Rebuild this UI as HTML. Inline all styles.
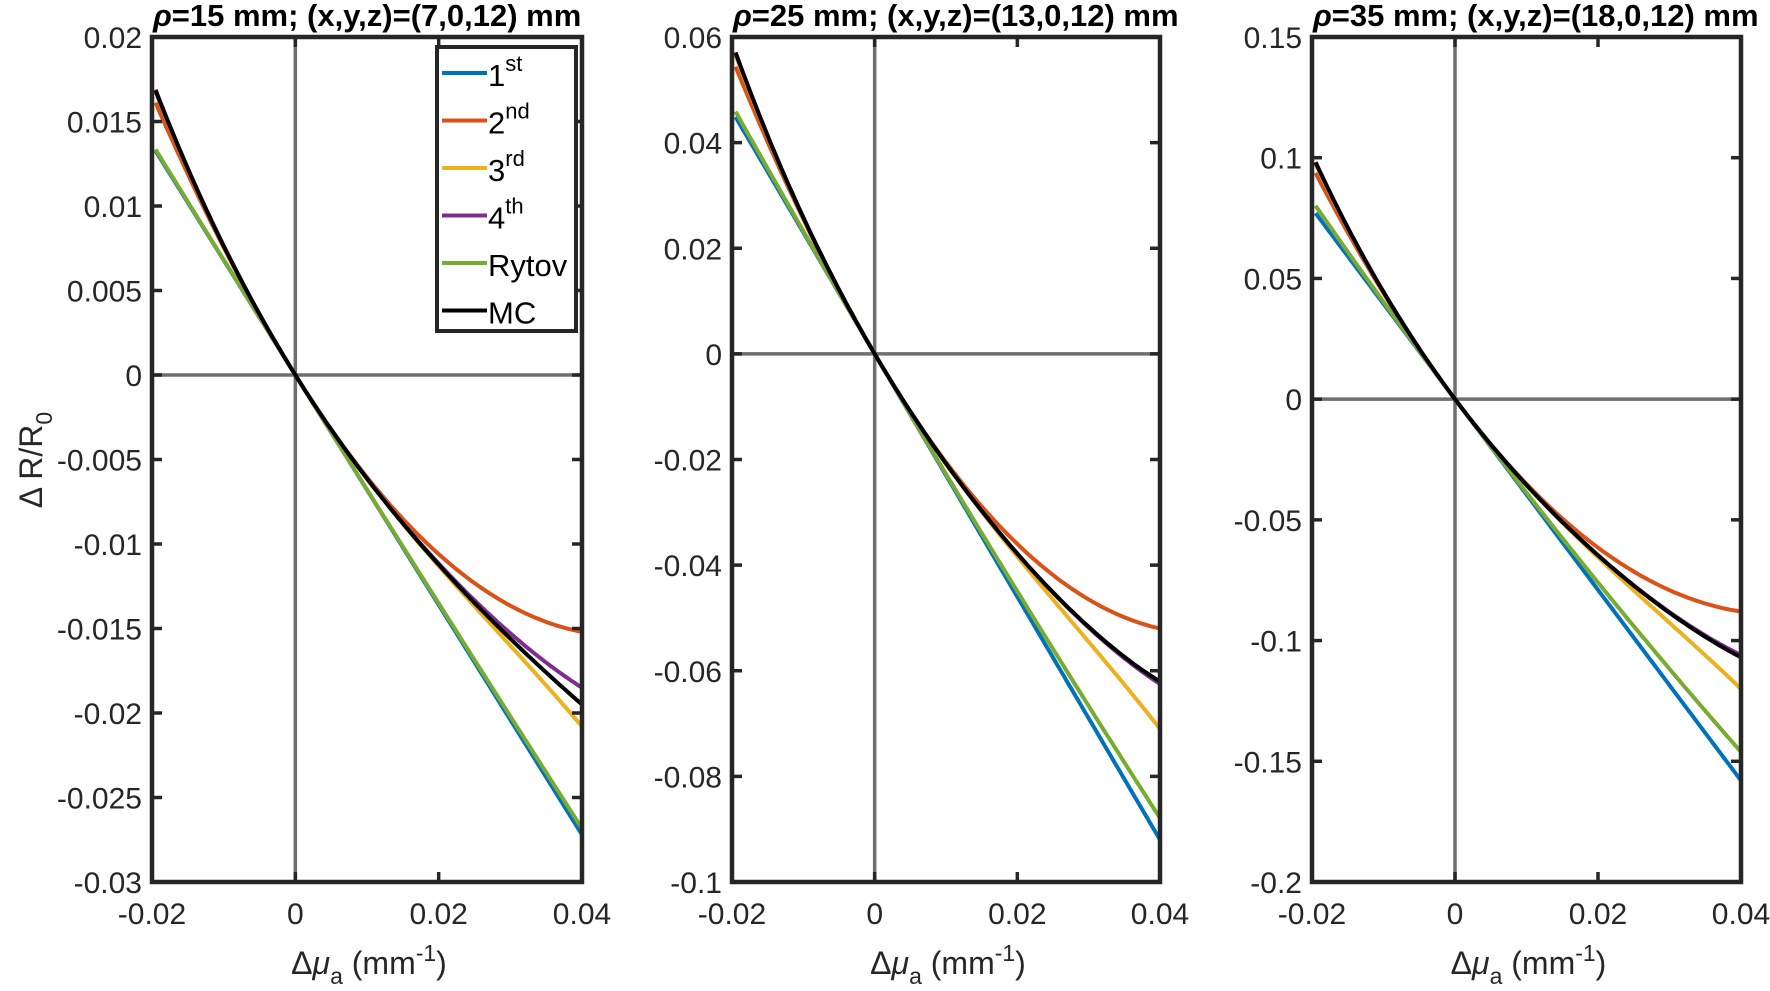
<!DOCTYPE html>
<html><head><meta charset="utf-8">
<style>
html,body{margin:0;padding:0;background:#fff;}
svg{display:block;font-family:"Liberation Sans",Arial,sans-serif;}
</style></head>
<body>
<svg id="s" width="1770" height="991" viewBox="0 0 1770 991" xmlns="http://www.w3.org/2000/svg"></svg>
<script>
(function(){
const S=document.getElementById('s');
const NS='http://www.w3.org/2000/svg';
function el(t,a,txt){const e=document.createElementNS(NS,t);for(const k in a)e.setAttribute(k,a[k]);if(txt!==undefined)e.textContent=txt;S.appendChild(e);return e;}
function ts(parent,txt,attrs){const e=document.createElementNS(NS,'tspan');for(const k in (attrs||{}))e.setAttribute(k,attrs[k]);e.textContent=txt;parent.appendChild(e);return e;}
const TOP=37,BOT=882;
const panels=[
 {l:152,r:582,ymax:0.02,ymin:-0.03,step:0.005,dec:3,title:'=15 mm; (x,y,z)=(7,0,12) mm',
  a:-0.68,b:7.5,c:-87.5,d:898,md:508,ry:-0.68,legend:true},
 {l:732,r:1160,ymax:0.06,ymin:-0.1,step:0.02,dec:2,title:'=25 mm; (x,y,z)=(13,0,12) mm',
  a:-2.3,b:25,c:-297,d:3320,md:3500,ry:-2.3},
 {l:1312,r:1741,ymax:0.15,ymin:-0.2,step:0.05,dec:2,title:'=35 mm; (x,y,z)=(18,0,12) mm',
  a:-3.95,b:43.75,c:-500,d:5470,md:5100,ry:-3.95}
];
const cols={b:'#0072BD',o:'#D95319',y:'#EDB120',p:'#7E2F8E',g:'#77AC30',k:'#000'};
function fmt(v,dec){if(Math.abs(v)<1e-12)return '0';return v.toFixed(dec).replace(/0+$/,'').replace(/\.$/,'');}
panels.forEach(function(P){
 const X=x=>P.l+(x+0.02)/0.06*(P.r-P.l);
 const Y=y=>TOP+(P.ymax-y)/(P.ymax-P.ymin)*(BOT-TOP);
 el('line',{x1:X(0),x2:X(0),y1:TOP,y2:BOT,stroke:'#6e6e6e','stroke-width':3.5});
 el('line',{x1:P.l,x2:P.r,y1:Y(0),y2:Y(0),stroke:'#6e6e6e','stroke-width':3.5});
 const fns=[
  ['b',x=>P.a*x],
  ['g',x=>Math.exp(P.ry*x)-1],
  ['o',x=>P.a*x+P.b*x*x],
  ['y',x=>P.a*x+P.b*x*x+P.c*x*x*x],
  ['p',x=>P.a*x+P.b*x*x+P.c*x*x*x+P.d*x*x*x*x],
  ['k',x=>P.a*x+P.b*x*x+P.c*x*x*x+P.md*x*x*x*x]
 ];
 fns.forEach(function(f){let d='';for(let i=0;i<=120;i++){const x=-0.0195+i*(0.0595/120);d+=(i?'L':'M')+X(x).toFixed(1)+','+Y(f[1](x)).toFixed(1);}
  el('path',{d:d,fill:'none',stroke:cols[f[0]],'stroke-width':4});});
 el('rect',{x:P.l,y:TOP,width:P.r-P.l,height:BOT-TOP,fill:'none',stroke:'#262626','stroke-width':4.5});
 const n=Math.round((P.ymax-P.ymin)/P.step);
 for(let i=0;i<=n;i++){const v=P.ymax-i*P.step,yy=Y(v);
  el('line',{x1:P.l,x2:P.l+10,y1:yy,y2:yy,stroke:'#262626','stroke-width':3.5});
  el('line',{x1:P.r,x2:P.r-10,y1:yy,y2:yy,stroke:'#262626','stroke-width':3.5});
  el('text',{x:P.l-10,y:yy+11,'text-anchor':'end','font-size':30,fill:'#262626'},fmt(v,P.dec));}
 [-0.02,0,0.02,0.04].forEach(function(v){const xx=X(v);
  el('line',{x1:xx,x2:xx,y1:BOT,y2:BOT-10,stroke:'#262626','stroke-width':3.5});
  el('line',{x1:xx,x2:xx,y1:TOP,y2:TOP+10,stroke:'#262626','stroke-width':3.5});
  el('text',{x:xx,y:924,'text-anchor':'middle','font-size':30,fill:'#262626'},fmt(v,2));});
 const t=el('text',{x:P.l+1,y:26,'font-size':31,'font-weight':'bold',fill:'#000'});
 ts(t,'ρ',{'font-style':'italic'});ts(t,P.title);
 const cx=(P.l+P.r)/2;
 const xl=el('text',{x:cx+2,y:974,'text-anchor':'middle','font-size':32,fill:'#262626'});
 ts(xl,'Δ');ts(xl,'μ',{'font-style':'italic'});ts(xl,'a',{'font-size':23,dy:10});ts(xl,' (mm',{dy:-10});ts(xl,'-1',{'font-size':23,dy:-13});ts(xl,')',{dy:13});
 if(P.legend){
  el('rect',{x:437,y:47,width:139,height:284,fill:'#fff',stroke:'#262626','stroke-width':4});
  const items=[['b','1','st'],['o','2','nd'],['y','3','rd'],['p','4','th'],['g','Rytov',''],['k','MC','']];
  items.forEach(function(it,i){const yy=73+i*47.5;
   el('line',{x1:442,x2:487,y1:yy,y2:yy,stroke:cols[it[0]],'stroke-width':4});
   const tx=el('text',{x:488,y:yy+13,'font-size':31,fill:'#000'});
   ts(tx,it[1]);if(it[2])ts(tx,it[2],{'font-size':22,dy:-15});});
 }
});
const yl=el('text',{transform:'translate(42,460) rotate(-90)','text-anchor':'middle','font-size':32,fill:'#262626'});
ts(yl,'Δ R/R');ts(yl,'0',{'font-size':23,dy:10});
})();
</script>
</body></html>
